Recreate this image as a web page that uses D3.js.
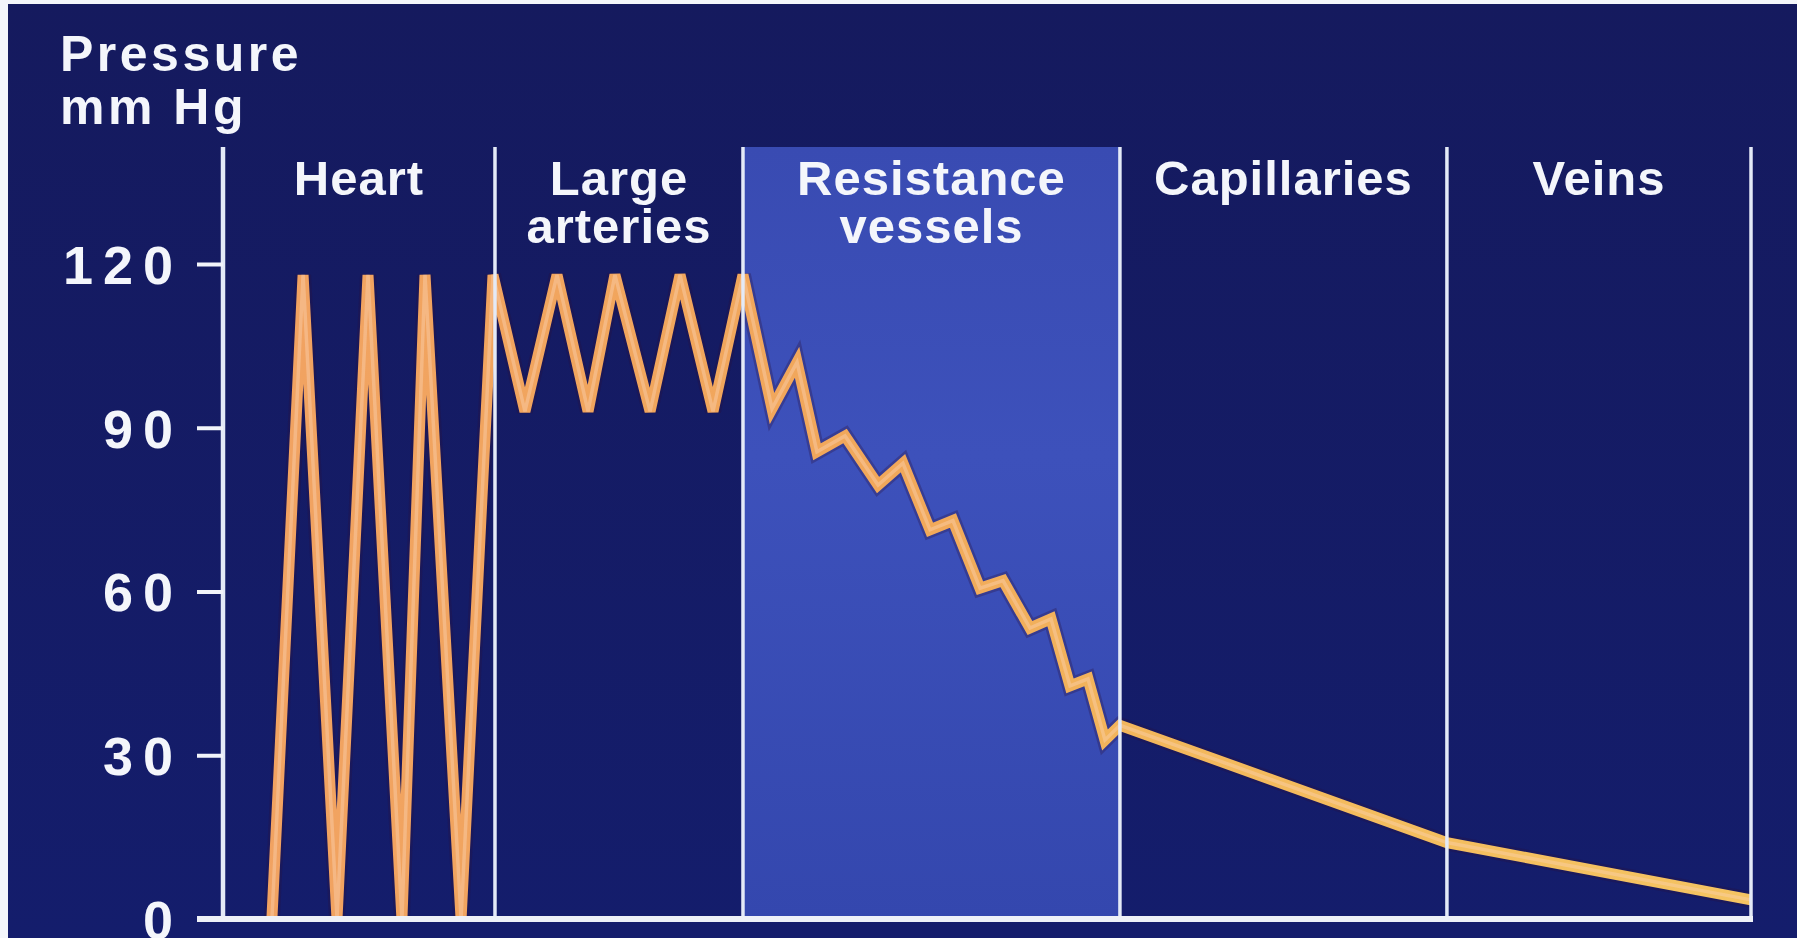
<!DOCTYPE html>
<html><head><meta charset="utf-8">
<script src="https://cdn.jsdelivr.net/npm/d3@7"></script>
<style>html,body{margin:0;padding:0;background:#141b63;overflow:hidden}</style>
</head><body><svg id="c" width="1797" height="938"></svg>
<script>
// ---------- data ----------
const segmentLabels = [["Heart"], ["Large", "arteries"], ["Resistance", "vessels"], ["Capillaries"], ["Veins"]];
const boundaries = [0, 17.8, 34.03, 58.7, 80.1, 100];          // position along the circulation (0-100)
const highlightedSegment = 2;                                     // Resistance vessels
const yTicks = [0, 30, 60, 90, 120];
const axisTitle = ["Pressure", "mm Hg"];
// pressure trace (position along circulation, mm Hg)
const position = [3.2, 5.24, 7.46, 9.49, 11.71, 13.22, 15.58, 17.67,
                  19.76, 21.86, 23.89, 25.65, 27.95, 29.91, 32.07, 34.03,
                  35.93, 37.57, 38.87, 40.71, 42.87, 44.5, 46.27, 47.77, 49.54, 51.05, 52.81, 54.19, 55.43, 56.61, 57.72, 58.7,
                  80.1, 100];
const pressure = [0, 118, 0, 118, 0, 118, 0, 118,
                  93, 118, 93, 118, 93, 118, 93, 118,
                  93.5, 102, 85.6, 88.5, 79.5, 83.5, 71.3, 73, 60.6, 62, 53.3, 55, 42.7, 44, 32.8, 35.5,
                  14, 3.5];

// ---------- layout ----------
const W = 1797, H = 938;
const mLeft = 223, mRight = 1751, mBottom = 919, mTop = 147;
const svg = d3.select("#c");
const x = d3.scaleLinear().domain([0, 100]).range([mLeft, mRight]);
const y = d3.scaleLinear().domain([0, 120]).range([mBottom, 264]);
const font = "'Liberation Sans', Arial, Helvetica, sans-serif";

const defs = svg.append("defs");
const bg = defs.append("linearGradient").attr("id", "bg").attr("x1", 0).attr("y1", 0).attr("x2", 0).attr("y2", 1);
bg.append("stop").attr("offset", 0).attr("stop-color", "#151a5e");
bg.append("stop").attr("offset", 1).attr("stop-color", "#141d6c");
const band = defs.append("linearGradient").attr("id", "band").attr("x1", 0).attr("y1", 0).attr("x2", 0).attr("y2", 1);
band.append("stop").attr("offset", 0).attr("stop-color", "#394bb2");
band.append("stop").attr("offset", 0.4).attr("stop-color", "#3d51bb");
band.append("stop").attr("offset", 1).attr("stop-color", "#3447ae");
const lg = defs.append("linearGradient").attr("id", "lg").attr("gradientUnits", "userSpaceOnUse")
  .attr("x1", mLeft).attr("y1", 0).attr("x2", mRight).attr("y2", 0);
lg.append("stop").attr("offset", 0).attr("stop-color", "#f1a262");
lg.append("stop").attr("offset", 0.45).attr("stop-color", "#f1a85a");
lg.append("stop").attr("offset", 0.62).attr("stop-color", "#f3b85c");
lg.append("stop").attr("offset", 1).attr("stop-color", "#f5c462");

svg.append("rect").attr("width", W).attr("height", H).attr("fill", "url(#bg)");
// white scan edges
svg.append("rect").attr("x", 0).attr("y", 0).attr("width", 8).attr("height", H).attr("fill", "#f4f6fb");
svg.append("rect").attr("x", 0).attr("y", 0).attr("width", W).attr("height", 4).attr("fill", "#f4f6fb");

// highlighted band
svg.append("rect")
  .attr("x", x(boundaries[highlightedSegment])).attr("y", mTop)
  .attr("width", x(boundaries[highlightedSegment + 1]) - x(boundaries[highlightedSegment]))
  .attr("height", mBottom - mTop).attr("fill", "url(#band)");

// trace
const pts = position.map((p, i) => ({ p, v: pressure[i] }));
const line = d3.line().x(d => x(d.p)).y(d => y(d.v));
svg.append("path").datum(pts).attr("d", line).attr("fill", "none")
  .attr("stroke", "#2a0f3a").attr("stroke-opacity", 0.3).attr("stroke-width", 16)
  .attr("stroke-linejoin", "miter").attr("stroke-miterlimit", 4);
svg.append("path").datum(pts).attr("d", line).attr("fill", "none")
  .attr("stroke", "url(#lg)").attr("stroke-width", 11)
  .attr("stroke-linejoin", "miter").attr("stroke-miterlimit", 4);
svg.append("path").datum(pts).attr("d", line).attr("fill", "none")
  .attr("stroke", "#fbd0b0").attr("stroke-opacity", 0.45).attr("stroke-width", 3.5)
  .attr("stroke-linejoin", "miter").attr("stroke-miterlimit", 4);

// dividers
svg.selectAll("line.div").data(boundaries).join("line").attr("class", "div")
  .attr("x1", d => x(d)).attr("x2", d => x(d)).attr("y1", mTop).attr("y2", mBottom)
  .attr("stroke", "#e4eaf7").attr("stroke-width", (d, i) => i === 0 ? 4.5 : 3.5);

// y axis
const yAxis = d3.axisLeft(y).tickValues(yTicks).tickSize(26).tickPadding(24).tickFormat(d3.format("d"));
const ga = svg.append("g").attr("transform", `translate(${mLeft},0)`).call(yAxis);
ga.select(".domain").remove();
ga.selectAll(".tick line").attr("stroke", "#f2f4fa").attr("stroke-width", 4);
ga.selectAll(".tick text").attr("fill", "#f4f6fb")
  .style("font-family", font)
  .style("font-weight", "bold").style("font-size", "54px").style("letter-spacing", "10px")
  .attr("dx", "10px").attr("dy", "0.36em");

// baseline
svg.append("line").attr("x1", mLeft - 26).attr("x2", mRight + 2).attr("y1", mBottom).attr("y2", mBottom)
  .attr("stroke", "#eef1f8").attr("stroke-width", 6);

// labels
segmentLabels.forEach((lines, i) => {
  const cx = (x(boundaries[i]) + x(boundaries[i + 1])) / 2;
  const t = svg.append("text").attr("x", cx).attr("y", 195).attr("text-anchor", "middle")
    .attr("fill", "#f4f6fb").style("font-family", font).style("font-weight", "bold")
    .style("font-size", "49px").style("letter-spacing", "1px");
  lines.forEach((s, j) => {
    t.append("tspan").attr("x", cx).attr("dy", j === 0 ? 0 : 48).text(s);
  });
});
const title = svg.append("text").attr("x", 60).attr("y", 71).attr("fill", "#f4f6fb")
  .style("font-family", font).style("font-weight", "bold")
  .style("font-size", "50px").style("letter-spacing", "3.5px");
axisTitle.forEach((s, j) => {
  title.append("tspan").attr("x", 60).attr("dy", j === 0 ? 0 : 53).text(s);
});
</script></body></html>
